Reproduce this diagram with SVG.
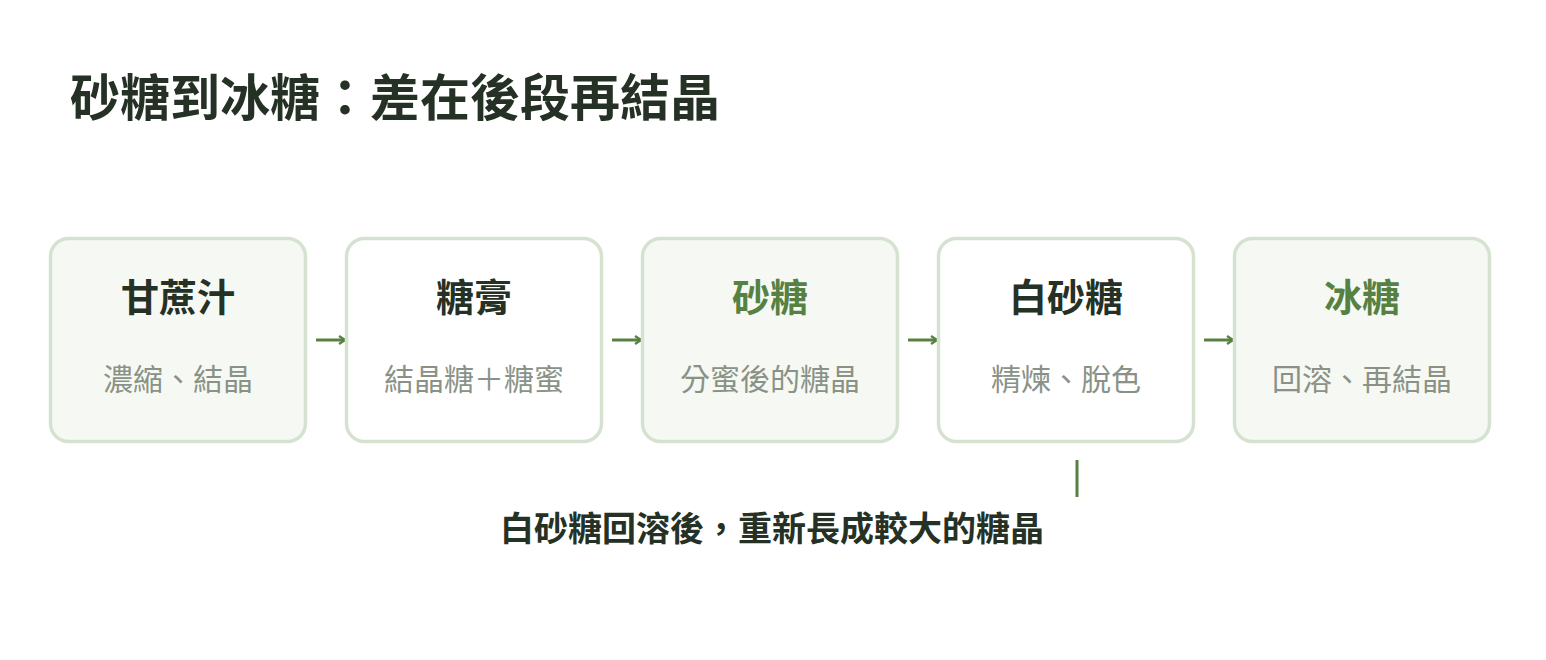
<svg xmlns="http://www.w3.org/2000/svg" width="1546" height="660" viewBox="0 0 1546 660">
<defs>
<style>
.bg{fill:#ffffff}
.box{stroke:#d6e2d1;stroke-width:3.5}
.tint{fill:#f6f9f3}
.plain{fill:#ffffff}
.t{font-family:"Noto Sans CJK TC","Noto Sans CJK SC",sans-serif;font-weight:700;font-size:38px;text-anchor:middle;fill:#263126}
.g{fill:#578142}
.s{font-family:"Noto Sans CJK TC","Noto Sans CJK SC",sans-serif;font-weight:400;font-size:30px;text-anchor:middle;fill:#8a9287}
.title{font-family:"Noto Sans CJK TC","Noto Sans CJK SC",sans-serif;font-weight:700;font-size:50px;fill:#263126}
.cap{font-family:"Noto Sans CJK TC","Noto Sans CJK SC",sans-serif;font-weight:700;font-size:34px;text-anchor:middle;fill:#263126}
.conn{stroke:#578142;stroke-width:3;fill:none}
</style>
<marker id="ah" viewBox="0 0 10 10" refX="9" refY="5" markerWidth="10" markerHeight="10" markerUnits="userSpaceOnUse" orient="auto">
<path d="M3,1 L9,5 L3,9" fill="none" stroke="#578142" stroke-width="2.2"/>
</marker>
</defs>
<rect class="bg" x="0" y="0" width="1546" height="660"/>
<text class="title" x="70" y="116">砂糖到冰糖：差在後段再結晶</text>
<g id="connectors">
<line class="conn" x1="316" y1="340" x2="345" y2="340" marker-end="url(#ah)"/>
<line class="conn" x1="612" y1="340" x2="641" y2="340" marker-end="url(#ah)"/>
<line class="conn" x1="908" y1="340" x2="937" y2="340" marker-end="url(#ah)"/>
<line class="conn" x1="1204" y1="340" x2="1233" y2="340" marker-end="url(#ah)"/>
<line class="conn" x1="1077" y1="460" x2="1077" y2="497"/>
</g>
<g id="n1">
<rect class="box tint" x="50.5" y="238.5" width="255" height="203" rx="18"/>
<text class="t" x="178" y="311">甘蔗汁</text>
<text class="s" x="178" y="390">濃縮、結晶</text>
</g>
<g id="n2">
<rect class="box plain" x="346.5" y="238.5" width="255" height="203" rx="18"/>
<text class="t" x="474" y="311">糖膏</text>
<text class="s" x="474" y="390">結晶糖＋糖蜜</text>
</g>
<g id="n3">
<rect class="box tint" x="642.5" y="238.5" width="255" height="203" rx="18"/>
<text class="t g" x="770" y="311">砂糖</text>
<text class="s" x="770" y="390">分蜜後的糖晶</text>
</g>
<g id="n4">
<rect class="box plain" x="938.5" y="238.5" width="255" height="203" rx="18"/>
<text class="t" x="1066" y="311">白砂糖</text>
<text class="s" x="1066" y="390">精煉、脫色</text>
</g>
<g id="n5">
<rect class="box tint" x="1234.5" y="238.5" width="255" height="203" rx="18"/>
<text class="t g" x="1362" y="311">冰糖</text>
<text class="s" x="1362" y="390">回溶、再結晶</text>
</g>
<text class="cap" x="772" y="541">白砂糖回溶後，重新長成較大的糖晶</text>
</svg>
